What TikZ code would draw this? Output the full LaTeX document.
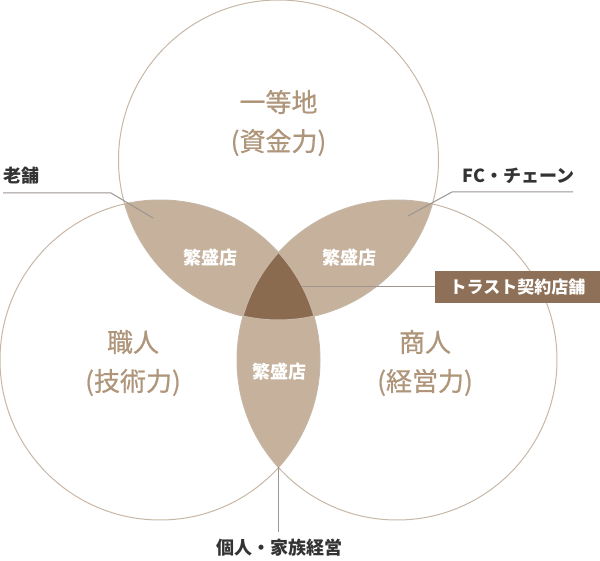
\documentclass[tikz,border=0pt]{standalone}
\usepackage{fontspec}
\newfontfamily\cjk{Noto Sans CJK JP}
\newfontfamily\cjkmid[FakeBold=0.7]{Noto Sans CJK JP}
\usetikzlibrary{calc,positioning}
\definecolor{ring}{HTML}{C6B7A6}
\definecolor{lens}{HTML}{C5B19C}
\definecolor{core}{HTML}{8B6B50}
\definecolor{trustbox}{HTML}{8D7057}
\definecolor{tan}{HTML}{AF967B}
\definecolor{ink}{HTML}{333333}
\definecolor{leader}{HTML}{9C9590}

\begin{document}
\begin{tikzpicture}[x=1pt, y=-1pt]
    \tikzset{Ring/.style = {draw=ring, line width=1pt},
      BigLabel/.style = {text=tan, align=center,
        font=\cjkmid\fontsize{26}{39}\selectfont},
      ShopLabel/.style = {text=white, font=\cjk\bfseries\fontsize{18}{18}\selectfont},
      OutLabel/.style = {text=ink, font=\cjk\bfseries\fontsize{18}{18}\selectfont},
      Leader/.style = {draw=leader, line width=1pt}}
    \useasboundingbox (0,0) rectangle (600,561);
    \coordinate (T) at (278.5,160);
    \coordinate (L) at (160,360);
    \coordinate (R) at (397,360);
    % overlaps
    \begin{scope}
      \clip (T) circle[radius=160];
      \fill[lens] (L) circle[radius=160];
      \fill[lens] (R) circle[radius=160];
    \end{scope}
    \begin{scope}
      \clip (L) circle[radius=160];
      \fill[lens] (R) circle[radius=160];
    \end{scope}
    \begin{scope}
      \clip (T) circle[radius=160];
      \clip (L) circle[radius=160];
      \fill[core] (R) circle[radius=160];
    \end{scope}
    \draw[Ring] (T) circle[radius=160];
    \draw[Ring] (L) circle[radius=160];
    \draw[Ring] (R) circle[radius=160];
    % circle labels
    \node[BigLabel] (land) at (278.5,123) {一等地\\(資金力)};
    \node[BigLabel] (craft) at (133,363) {職人\\(技術力)};
    \node[BigLabel] (trade) at (425,363) {商人\\(経営力)};
    \node[ShopLabel] (shopTL) at (210,258) {繁盛店};
    \node[ShopLabel] (shopTR) at (349,258) {繁盛店};
    \node[ShopLabel] (shopB) at (279,372) {繁盛店};
    % outer labels
    \node[OutLabel, anchor=west, inner sep=0pt] (shinise) at (3,176) {老舗};
    \node[OutLabel] (chain) at (518.5,176) {FC・チェーン};
    \node[OutLabel] (family) at (279,548) {個人・家族経営};
    \node[fill=trustbox, text=white, minimum width=165pt, minimum height=32pt,
      font=\cjk\bfseries\fontsize{17}{17}\selectfont] (trust) at (517.5,287) {トラスト契約店舗};
    % leaders
    \coordinate (oldA) at (3,193);
    \coordinate (oldB) at (111,193);
    \coordinate (oldC) at (153,218);
    \coordinate (fcA) at (573,192);
    \coordinate (fcB) at (452,192);
    \coordinate (fcC) at (408,216);
    \coordinate (famTop) at (278.5,467);
    \coordinate (famEnd) at (278.5,532);
    \coordinate (coreEnd) at (302,287);
    \draw[Leader] (oldA) -- (oldB) -- (oldC);
    \draw[Leader] (fcA) -- (fcB) -- (fcC);
    \draw[Leader] (famTop) -- (famEnd);
    \draw[Leader] (coreEnd) -- (trust.west);
\end{tikzpicture}
\end{document}
